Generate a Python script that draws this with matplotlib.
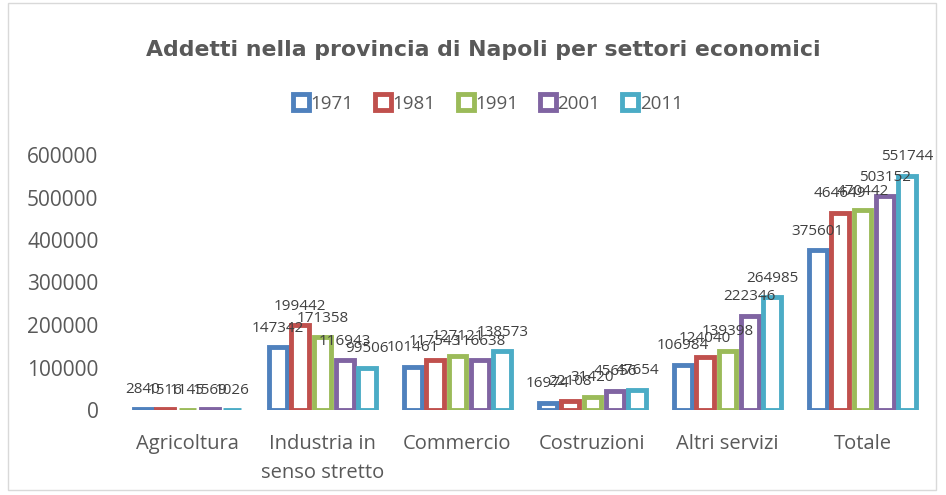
import matplotlib
matplotlib.use("Agg")
import matplotlib.pyplot as plt
import numpy as np
from matplotlib.patches import Rectangle
from matplotlib.lines import Line2D

plt.rcParams['font.family'] = ['Open Sans', 'DejaVu Sans']

categories = ["Agricoltura", "Industria in\nsenso stretto", "Commercio",
              "Costruzioni", "Altri servizi", "Totale"]
years = ["1971", "1981", "1991", "2001", "2011"]
v1971 = [2840, 147342, 101461, 16974, 106984, 375601]
v1981 = [1516, 199442, 117543, 22108, 124040, 464649]
v1991 = [1145, 171358, 127121, 31420, 139398, 470442]
v2001 = [1569, 116943, 116638, 45656, 222346, 503152]
v2011 = [1026, 99506, 138573, 47654, 264985, 551744]
series = [v1971, v1981, v1991, v2001, v2011]
colors = ["#4F81BD", "#C0504D", "#9BBB59", "#8064A2", "#4BACC6"]
yticks = [0, 100000, 200000, 300000, 400000, 500000, 600000]

W, H = 946, 495
fig = plt.figure(figsize=(W / 100, H / 100), dpi=100)
fig.patches.append(Rectangle((8 / W, 5 / H), (936 - 8) / W, (H - 8) / H,
                             transform=fig.transFigure, fill=False,
                             edgecolor="#D9D9D9", linewidth=1))

ax = fig.add_axes([120 / W, 1 - 410 / H, (930 - 120) / W, (410 - 155) / H])
x = np.arange(len(categories))
bw = 0.166
for i, (vals, col) in enumerate(zip(series, colors)):
    pos = x + (i - 2) * bw
    ax.bar(pos, vals, width=bw - 0.035, facecolor="white", edgecolor=col,
           linewidth=3.5)
    for p, v in zip(pos, vals):
        ax.annotate(str(v), (p, v), xytext=(0, 19), textcoords="offset pixels",
                    ha="center", va="center", fontsize=11, color="#404040")

ax.set_xlim(-0.5, len(categories) - 0.5)
ax.set_ylim(0, 600000)
ax.set_yticks(yticks)
ax.set_yticklabels([str(t) for t in yticks])
ax.set_xticks(x)
ax.set_xticklabels(categories, linespacing=1.6)
ax.tick_params(axis="y", length=0, labelsize=15, labelcolor="#595959", pad=15.5)
ax.tick_params(axis="x", length=0, labelsize=14.5, labelcolor="#595959", pad=17)
for s in ax.spines.values():
    s.set_visible(False)

fig.text(483 / W, 1 - 50 / H, "Addetti nella provincia di Napoli per settori economici",
         ha="center", va="center", fontsize=15.8, fontweight="bold",
         color="#595959", family="DejaVu Sans")

handles = [Line2D([], [], linestyle="none", marker="s", markersize=11,
                  markerfacecolor="white", markeredgecolor=c, markeredgewidth=3.5)
           for c in colors]
leg = fig.legend(handles, years, loc="center", bbox_to_anchor=(488 / W, 1 - 104 / H),
                 ncol=5, frameon=False, fontsize=13.5, handlelength=0.8,
                 handletextpad=0.1, columnspacing=1.2, labelcolor="#595959")

fig.savefig("out.png", dpi=100)
